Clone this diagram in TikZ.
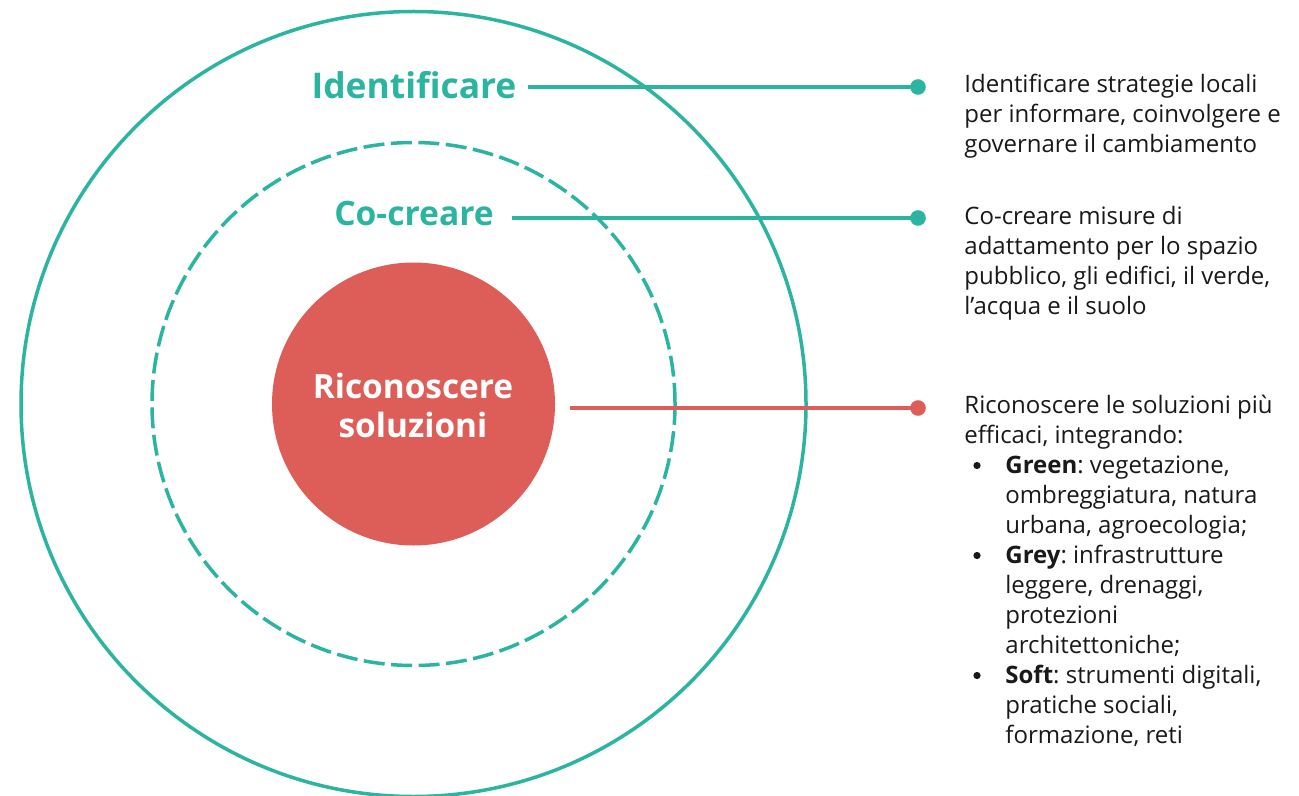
\documentclass[tikz,border=0pt]{standalone}
\usepackage{fontspec}
\setmainfont{Open Sans}
\frenchspacing
\definecolor{myteal}{RGB}{43,181,160}
\definecolor{myred}{RGB}{221,94,88}
\definecolor{mytext}{RGB}{25,25,25}
\newcommand\mybul{\makebox[20.5pt][l]{}}
\begin{document}
\begin{tikzpicture}[x=0.5pt,y=-0.5pt,
  ring/.style={circle, draw=myteal, line width=1.75pt, inner sep=0pt, outer sep=0pt},
  conn/.style={line width=1.9pt},
  dotn/.style={circle, inner sep=0pt, outer sep=0pt, minimum size=7.8pt},
  titletext/.style={text=myteal, inner sep=0pt, outer sep=0pt, anchor=base},
  desc/.style={anchor=base west, inner sep=0pt, text=mytext, font=\fontsize{12}{15}\selectfont},
  bulletdot/.style={fill=mytext}
]
\useasboundingbox (0,0) rectangle (1299,796);
\fill[white] (0,0) rectangle (1299,796);

% rings
\node[ring, minimum size=392.5pt] (outer) at (413.5,404) {};
\node[ring, dash pattern=on 10.5pt off 3.25pt, minimum size=261.5pt] (middle) at (413.5,404) {};
\node[circle, fill=myred, inner sep=0pt, outer sep=0pt, minimum size=141.5pt] (core) at (413.5,404) {};

% labels
\node[titletext, font=\fontsize{17.7}{22}\selectfont\bfseries] (ident) at (414,98.5) {Identificare};
\node[titletext, font=\fontsize{16.8}{20}\selectfont\bfseries] (cocr) at (414,226) {Co-creare};
\node[text=white, inner sep=0pt, anchor=base, font=\fontsize{16.7}{19.5}\selectfont\bfseries] (corelabel) at (413,398.5)
  {\begin{tabular}[t]{@{}c@{}}Riconoscere\\soluzioni\end{tabular}};

% dots
\node[dotn, fill=myteal] (d1) at (918,87) {};
\node[dotn, fill=myteal] (d2) at (918,218) {};
\node[dotn, fill=myred] (d3) at (918,408) {};

% connectors
\draw[conn, myteal, shorten <=6pt] (d1 -| ident.east) -- (d1.center);
\draw[conn, myteal, shorten <=9pt] (d2 -| cocr.east) -- (d2.center);
\draw[conn, myred, shorten <=7.5pt] (d3 -| core.east) -- (d3.center);

% descriptions
\node[desc] (t1) at (964,93) {\begin{tabular}[t]{@{}l@{}}Identificare strategie locali\\per informare, coinvolgere e\\governare il cambiamento\end{tabular}};
\node[desc] (t2) at (964,225) {\begin{tabular}[t]{@{}l@{}}Co-creare misure di\\adattamento per lo spazio\\pubblico, gli edifici, il verde,\\l’acqua e il suolo\end{tabular}};
\node[desc] (t3) at (964,413) {\begin{tabular}[t]{@{}l@{}l@{}}
\multicolumn{2}{@{}l@{}}{Riconoscere le soluzioni più}\\
\multicolumn{2}{@{}l@{}}{efficaci, integrando:}\\
\mybul & \textbf{Green}: vegetazione,\\
 & ombreggiatura, natura\\
 & urbana, agroecologia;\\
\mybul & \textbf{Grey}: infrastrutture\\
 & leggere, drenaggi,\\
 & protezioni\\
 & architettoniche;\\
\mybul & \textbf{Soft}: strumenti digitali,\\
 & pratiche sociali,\\
 & formazione, reti
\end{tabular}};
% list bullets
\fill[bulletdot] (977,465.5) circle (3.6);
\fill[bulletdot] (977,555.5) circle (3.6);
\fill[bulletdot] (977,675.5) circle (3.6);
\end{tikzpicture}
\end{document}
